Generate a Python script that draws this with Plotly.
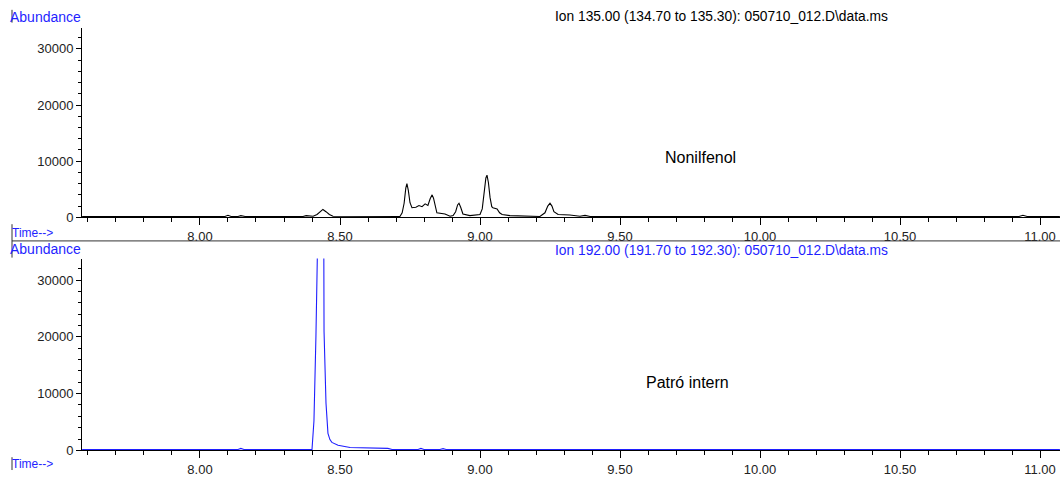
import plotly.graph_objects as go

W, H = 1060, 479

# ---- data ----
top_time = [7.579, 8.089, 8.100, 8.111, 8.136, 8.146, 8.161, 8.368, 8.379, 8.396,
            8.404, 8.418, 8.430, 8.439, 8.450, 8.462, 8.475, 8.714, 8.722, 8.729,
            8.735, 8.739, 8.744, 8.750, 8.757, 8.771, 8.782, 8.793, 8.804, 8.814,
            8.822, 8.829, 8.834, 8.839, 8.846, 8.875, 8.893, 8.904, 8.913, 8.920,
            8.925, 8.931, 8.939, 8.964, 9.000, 9.008, 9.015, 9.021, 9.025, 9.030,
            9.036, 9.042, 9.046, 9.061, 9.070, 9.079, 9.107, 9.214, 9.232, 9.242,
            9.250, 9.257, 9.264, 9.279, 9.321, 9.357, 9.375, 9.393, 10.925, 10.939,
            10.954, 11.071]
top_abund = [150, 150, 350, 150, 150, 300, 150, 150, 300, 180,
             200, 500, 1100, 1400, 1000, 500, 200, 150, 800, 2500,
             5200, 6000, 4800, 2600, 1700, 1800, 2100, 1900, 2400, 2100,
             3300, 4000, 3400, 2000, 800, 600, 200, 300, 1000, 2200,
             2500, 1800, 600, 300, 500, 1500, 4500, 7000, 7500, 6200,
             3500, 1900, 1700, 1500, 800, 500, 300, 150, 800, 2000,
             2500, 2000, 1000, 500, 400, 200, 350, 150, 150, 350,
             150, 150]

bot_time = [7.579, 8.136, 8.146, 8.157, 8.400, 8.404, 8.407, 8.414, 8.418, 8.439,
            8.443, 8.450, 8.457, 8.464, 8.471, 8.493, 8.536, 8.671, 8.686, 8.779,
            8.789, 8.800, 8.857, 8.868, 8.879, 11.071]
bot_abund = [150, 150, 350, 150, 150, 2800, 5200, 20000, 90000, 90000,
             21000, 8300, 3000, 1900, 1400, 900, 500, 350, 150, 150,
             350, 150, 150, 300, 150, 150]

top_title = "Ion 135.00 (134.70 to 135.30): 050710_012.D\\data.ms"
bot_title = "Ion 192.00 (191.70 to 192.30): 050710_012.D\\data.ms"
top_label = "Nonilfenol"
bot_label = "Patró intern"
y_ticks = [0, 10000, 20000, 30000]

FONT = "Arial, Liberation Sans, sans-serif"
BLUE = "#1f1fff"


def px(x):
    return x / W


def py(y):
    return 1 - y / H


fig = go.Figure()
fig.add_trace(go.Scatter(x=top_time, y=top_abund, mode="lines",
                         line=dict(color="black", width=1.1),
                         xaxis="x", yaxis="y", showlegend=False))
fig.add_trace(go.Scatter(x=bot_time, y=bot_abund, mode="lines",
                         line=dict(color=BLUE, width=1.1),
                         xaxis="x2", yaxis="y2", showlegend=False))

xr = [7.5786, 11.0714]
yr = [0, 33800]

xax = dict(range=xr, showgrid=False, zeroline=False, showline=True,
           linecolor="black", linewidth=1, ticks="outside", ticklen=7,
           tickcolor="black", tick0=8.0, dtick=0.5, tickformat=".2f",
           tickfont=dict(family=FONT, size=13, color="#222"),
           minor=dict(dtick=0.1, tick0=8.0, ticks="outside", ticklen=4,
                      tickcolor="black", showgrid=False),
           layer="below traces", fixedrange=True)
yax = dict(range=yr, showgrid=False, zeroline=False, showline=True,
           linecolor="black", linewidth=1, ticks="outside", ticklen=5,
           tickcolor="black", tickvals=y_ticks,
           ticktext=[str(v) for v in y_ticks],
           tickfont=dict(family=FONT, size=13, color="#222"),
           minor=dict(dtick=2000, tick0=0, ticks="outside", ticklen=3,
                      tickcolor="black", showgrid=False),
           layer="below traces", fixedrange=True)

fig.update_layout(
    width=W, height=H,
    margin=dict(l=0, r=0, t=0, b=0),
    paper_bgcolor="white", plot_bgcolor="white",
    xaxis=dict(xax, domain=[px(82), 1.0], anchor="y"),
    yaxis=dict(yax, domain=[py(221), py(28)], anchor="x"),
    xaxis2=dict(xax, domain=[px(82), 1.0], anchor="y2"),
    yaxis2=dict(yax, domain=[py(458), py(263)], anchor="x2"),
)

ann = []


def text(x, y, s, color="black", xanchor="left", size=12):
    ann.append(dict(x=px(x), y=py(y), xref="paper", yref="paper", text=s,
                    showarrow=False, xanchor=xanchor, yanchor="middle",
                    font=dict(family=FONT, size=size, color=color)))


text(8, 17, "Abundance", BLUE, size=14)
text(8, 253, "Abundance", BLUE, size=14)
text(10, 237, "Time-->", BLUE, size=12)
text(10, 472, "Time-->", BLUE, size=12)
text(721, 17, top_title, "black", "center", size=13.8)
text(721, 255, bot_title, BLUE, "center", size=13.8)
text(700, 160, top_label, "black", "center", size=16)
text(687, 389, bot_label, "black", "center", size=16)
fig.update_layout(annotations=ann)

shapes = [
    dict(type="line", xref="paper", yref="paper", x0=px(12), x1=1.0,
         y0=py(245), y1=py(245), line=dict(color="#333", width=1)),
    dict(type="line", xref="paper", yref="paper", x0=px(12), x1=px(12),
         y0=py(228), y1=py(262), line=dict(color="#333", width=1)),
    dict(type="line", xref="paper", yref="paper", x0=px(12), x1=px(12),
         y0=py(10), y1=py(23), line=dict(color="#333", width=1)),
    dict(type="line", xref="paper", yref="paper", x0=px(12), x1=px(12),
         y0=py(465), y1=py(478), line=dict(color="#333", width=1)),
]
fig.update_layout(shapes=shapes)

fig.write_html("out.html")
